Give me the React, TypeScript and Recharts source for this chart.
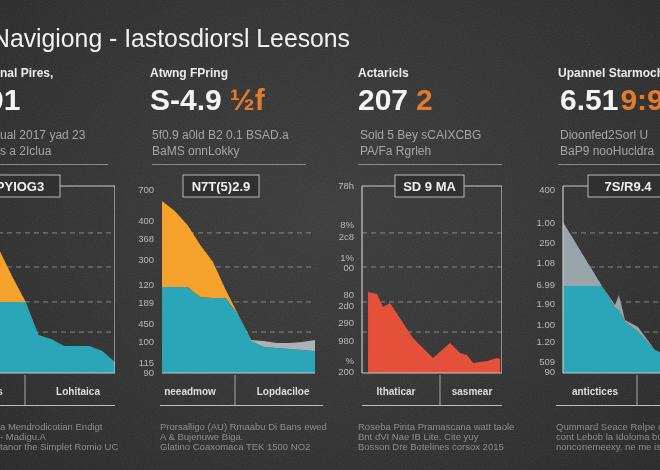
import React from 'react';
import { AreaChart, Area, XAxis, YAxis, CartesianGrid, ReferenceLine } from 'recharts';

// ---------------- data ----------------
const titleText = 'Navigiong - Iastosdiorsl Leesons';

const gridValues = [74.9, 56.7, 38, 21.9];

// Panel 1
const p1Steps = [0, 1, 2, 3, 4, 5, 6, 7, 8, 9, 10, 11, 12];
const p1Teal = [38, 38, 38, 38, 38, 38, 20.3, 18.2, 14.4, 14.4, 14.4, 11.8, 5.9];
const p1Orange = [54.5, 49.2, 39.5, 26.7, 12.8, 0, 0, 0, 0, 0, 0, 0, 0];
const p1CatTicks = [2.2, 9.1];
const p1CatLabels = ['Texts', 'Lohitaica'];

// Panel 2
const p2Steps = [0, 1, 2, 3, 4, 5, 6, 7, 8, 9, 10, 11, 12];
const p2Teal = [46, 46, 46, 40.6, 40.1, 40.1, 31, 17, 13.9, 13.4, 12.8, 12.3, 11.8];
const p2Orange = [46, 40.6, 33.1, 27.8, 19.3, 4.3, 0, 0, 0, 0, 0, 0, 0];
const p2Gray = [0, 0, 0, 0, 0, 0, 0, 0.6, 3.2, 2.6, 3.2, 4.3, 5.8];
const p2YTicks = [97.9, 81.3, 71.7, 60.4, 47.1, 37.4, 26.2, 16.6, 5.5, 0];
const p2YLabels = ['700', '400', '368', '300', '120', '189', '450', '100', '115', '90'];
const p2CatTicks = [2.2, 9.5];
const p2CatLabels = ['neeadmow', 'Lopdaciloe'];

// Panel 3
const p3Days = [4.3, 10.7, 15, 20, 36.4, 50.7, 62.9, 70, 75, 79.3, 89.3, 96.4, 98.6];
const p3Red = [43.3, 42.2, 35.3, 37.4, 18.7, 8.0, 16.0, 10.7, 9.6, 5.3, 6.4, 8.0, 7.5];
const p3YTicks = [100, 79.1, 72.7, 61.5, 56.1, 41.8, 35.8, 26.7, 17.1, 6.4, 0.5];
const p3YLabels = ['78h', '8%', '2c8', '1%', '00', '80', '2d0', '290', '980', '%', '200'];
const p3CatTicks = [24.3, 78.6];
const p3CatLabels = ['Ithaticar', 'sasmear'];

// Panel 4
const p4Days = [0, 26, 34.7, 37.3, 41.3, 50, 61.3, 64.7, 78, 100];
const p4Teal = [46.5, 46.5, 35, 33.5, 27.5, 22, 12.3, 11.2, 8, 6];
const p4Gray = [34.2, 0, 1.4, 8.2, 0.8, 2.6, 0, 0, 1, 1.5];
const p4YTicks = [97.9, 80.2, 69.5, 58.8, 47.1, 36.9, 25.7, 16.6, 5.9, 0.5];
const p4YLabels = ['400', '1.00', '250', '1.08', '6.99', '1.90', '1.00', '1.20', '509', '90'];
const p4CatTicks = [21.3, 85];
const p4CatLabels = ['antictices', 'sonthices'];

// header texts
const headLabels = ['Original Pires,', 'Atwng FPring', 'Actaricls', 'Upannel Starmoch'];
const bigWhite = ['2.01', 'S-4.9', '207', '6.51'];
const bigOrange = ['', '½f', '2', '9:9'];
const subLine1 = ['ual 2017 yad 23', '5f0.9 a0ld B2 0.1 BSAD.a', 'Sold 5 Bey sCAIXCBG', 'Dioonfed2Sorl U'];
const subLine2 = ['s a 2Iclua', 'BaMS onnLokky', 'PA/Fa Rgrleh', 'BaP9 nooHucldra'];
const boxLabels = ['PYIOG3', 'N7T(5)2.9', 'SD 9 MA', '7S/R9.4'];
const footLines = [
  ['a Mendrodicotian Endigt', '- Madigu.A', 'tanor the Simplet Romio UC'],
  ['Prorsalligo (AU) Rmaabu Di Bans ewed', 'A & Bujenuwe Biga.', 'Glatino Coaxomaca TEK 1500 NO2'],
  ['Roseba Pinta Pramascana watt taole', 'Bnt dVI Nae IB Lite. Cite yuy', 'Bosson Dre Botelines corsox 2015'],
  ['Qummard Seace Relpe chart', 'cont Lebob la Idoloma bug', 'nonconemeexy, ne me iste'],
];

// ---------------- colors ----------------
const TEAL = '#2ba6b9';
const ORANGE = '#f5a22c';
const GRAY2 = '#a9b2b4';
const GRAY4 = '#98a6a9';
const RED = '#e4503a';
const ORANGE_TXT = '#e27b2c';
const CHALK = '#c9c9c9';
const BG = '#303030';

const FONT = '"Liberation Sans", Arial, sans-serif';

type AreaDef = { key: string; color: string };

function Panel(props: {
  data: any[];
  areas: AreaDef[];
  xDomain: [number, number];
  plotLeft: number;
  plotW: number;
  yTicks?: number[];
  yLabels?: string[];
  catTicks: number[];
  catLabels: string[];
  frameLeft?: boolean;
  frameTop?: boolean;
  frameRight?: boolean;
}) {
  const { data, areas, xDomain, plotLeft, plotW, yTicks, yLabels, catTicks, catLabels } = props;
  const yW = yTicks ? 30 : 0;
  return (
    <div style={{ position: 'absolute', left: plotLeft - yW, top: 176 }}>
      <AreaChart width={plotW + yW} height={227} data={data} margin={{ top: 10, right: 0, bottom: 0, left: 0 }}>
        <CartesianGrid
          vertical={false}
          horizontalValues={gridValues}
          stroke="#a0a0a0"
          strokeOpacity={0.75}
          strokeDasharray="5 4"
        />
        <XAxis
          dataKey="x"
          type="number"
          domain={xDomain}
          allowDataOverflow
          ticks={catTicks}
          interval={0}
          tickFormatter={(v: number) => catLabels[catTicks.indexOf(v)] ?? ''}
          height={30}
          tickLine={false}
          tickMargin={9}
          axisLine={{ stroke: CHALK, strokeWidth: 1.2 }}
          tick={{ fill: '#dedede', fontSize: 10, fontWeight: 700, fontFamily: FONT }}
        />
        <YAxis
          type="number"
          domain={[0, 100]}
          allowDataOverflow
          hide={!yTicks}
          ticks={yTicks}
          interval={0}
          width={yW}
          tickFormatter={(v: number) => (yTicks && yLabels ? yLabels[yTicks.indexOf(v)] ?? '' : '')}
          tickLine={false}
          axisLine={props.frameLeft ? { stroke: CHALK, strokeWidth: 1.2 } : false}
          tick={{ fill: '#b9b9b9', fontSize: 9.5, fontFamily: FONT }}
        />
        {areas.map((a) => (
          <Area
            key={a.key}
            dataKey={a.key}
            stackId="s"
            type="linear"
            fill={a.color}
            fillOpacity={1}
            stroke="none"
            isAnimationActive={false}
          />
        ))}
        {props.frameTop && <ReferenceLine y={100} stroke={CHALK} strokeWidth={1.2} />}
        {props.frameRight && <ReferenceLine x={xDomain[1]} stroke={CHALK} strokeWidth={1.2} />}
      </AreaChart>
    </div>
  );
}

export default function App() {
  const d1 = p1Steps.map((x, i) => ({ x, teal: p1Teal[i], orange: p1Orange[i] }));
  const d2 = p2Steps.map((x, i) => ({ x, teal: p2Teal[i], orange: p2Orange[i], gray: p2Gray[i] }));
  const d3 = p3Days.map((x, i) => ({ x, red: p3Red[i] }));
  const d4 = p4Days.map((x, i) => ({ x, teal: p4Teal[i], gray: p4Gray[i] }));

  // layout
  const headX = [0, 150, 358, 558];
  const bigX = [-38, 150, 358, 560];
  const orangeDx = [0, 8, 8, 2];
  const sepX = [[0, 108], [152, 306], [358, 502], [558, 660]];
  const boxes = [[-20, 80], [183, 76], [395, 69], [588, 80]];
  const dividers = [25, 235, 440, 637];
  const underlines = [[0, 115], [160, 323], [362, 502], [556, 660]];
  const footX = [0, 160, 358, 556];

  return (
    <div
      style={{
        position: 'fixed',
        left: 0,
        top: 0,
        width: 660,
        height: 470,
        overflow: 'hidden',
        background: 'radial-gradient(ellipse at 50% 45%, #393939 0%, #303030 55%, #262626 100%)',
        fontFamily: FONT,
      }}
    >
      <svg width={660} height={470} style={{ position: 'absolute', left: 0, top: 0 }}>
        <filter id="chalk">
          <feTurbulence type="fractalNoise" baseFrequency="0.9" numOctaves="2" seed="3" />
          <feColorMatrix type="matrix" values="0 0 0 0 1  0 0 0 0 1  0 0 0 0 1  0 0 0 0.08 0" />
        </filter>
        <rect x={0} y={0} width={660} height={470} filter="url(#chalk)" />
      </svg>

      <Panel
        data={d1}
        areas={[{ key: 'teal', color: TEAL }, { key: 'orange', color: ORANGE }]}
        xDomain={[0, 12]}
        plotLeft={-38}
        plotW={153}
        catTicks={p1CatTicks}
        catLabels={p1CatLabels}
        frameTop
        frameRight
      />
      <Panel
        data={d2}
        areas={[{ key: 'teal', color: TEAL }, { key: 'orange', color: ORANGE }, { key: 'gray', color: GRAY2 }]}
        xDomain={[0, 12]}
        plotLeft={162}
        plotW={153}
        yTicks={p2YTicks}
        yLabels={p2YLabels}
        catTicks={p2CatTicks}
        catLabels={p2CatLabels}
      />
      <Panel
        data={d3}
        areas={[{ key: 'red', color: RED }]}
        xDomain={[0, 100]}
        plotLeft={362}
        plotW={140}
        yTicks={p3YTicks}
        yLabels={p3YLabels}
        catTicks={p3CatTicks}
        catLabels={p3CatLabels}
        frameLeft
        frameTop
        frameRight
      />
      <Panel
        data={d4}
        areas={[{ key: 'teal', color: TEAL }, { key: 'gray', color: GRAY4 }]}
        xDomain={[0, 100]}
        plotLeft={563}
        plotW={150}
        yTicks={p4YTicks}
        yLabels={p4YLabels}
        catTicks={p4CatTicks}
        catLabels={p4CatLabels}
        frameLeft
        frameTop
      />

      <svg width={660} height={470} style={{ position: 'absolute', left: 0, top: 0, pointerEvents: 'none' }}>
        <text
          x={-8}
          y={47}
          fill="#f2f2f2"
          fontSize={26}
          fontFamily={FONT}
          textLength={358}
          lengthAdjust="spacingAndGlyphs"
        >
          {titleText}
        </text>

        {headLabels.map((t, i) => (
          <text key={'hl' + i} x={headX[i]} y={77} fill="#ececec" fontSize={12} fontWeight={700} fontFamily={FONT}>
            {i === 0 ? t.slice(5) : t}
          </text>
        ))}
        {bigWhite.map((t, i) => (
          <text key={'bw' + i} x={bigX[i]} y={110} fill="#f4f4f4" fontSize={30} fontWeight={700} fontFamily={FONT}>
            {t}
            {bigOrange[i] && (
              <tspan dx={orangeDx[i]} fill={ORANGE_TXT}>
                {bigOrange[i]}
              </tspan>
            )}
          </text>
        ))}
        {subLine1.map((t, i) => (
          <text key={'s1' + i} x={i === 0 ? 0 : headX[i] + 2} y={139} fill="#a6a6a6" fontSize={12} fontFamily={FONT}>
            {t}
          </text>
        ))}
        {subLine2.map((t, i) => (
          <text key={'s2' + i} x={i === 0 ? 0 : headX[i] + 2} y={155} fill="#a6a6a6" fontSize={12} fontFamily={FONT}>
            {t}
          </text>
        ))}
        {sepX.map((s, i) => (
          <line key={'sep' + i} x1={s[0]} x2={s[1]} y1={164.5} y2={164.5} stroke="#8a8a8a" strokeWidth={1} />
        ))}

        {boxes.map((b, i) => (
          <g key={'bx' + i}>
            <rect x={b[0]} y={175} width={b[1]} height={22} fill={BG} stroke="#b8b8b8" strokeWidth={1} />
            <text
              x={b[0] + b[1] / 2}
              y={191}
              textAnchor="middle"
              fill="#f0f0f0"
              fontSize={13}
              fontWeight={700}
              fontFamily={FONT}
            >
              {boxLabels[i]}
            </text>
          </g>
        ))}

        {dividers.map((x, i) => (
          <line key={'dv' + i} x1={x} x2={x} y1={375} y2={405} stroke="#a8a8a8" strokeWidth={1} />
        ))}
        {underlines.map((u, i) => (
          <line key={'ul' + i} x1={u[0]} x2={u[1]} y1={405.5} y2={405.5} stroke="#bdbdbd" strokeWidth={1.2} />
        ))}

        {footLines.map((lines, i) =>
          lines.map((t, j) => (
            <text
              key={'ft' + i + '-' + j}
              x={footX[i]}
              y={430 + j * 10}
              fill="#8e8e8e"
              fontSize={9.5}
              fontFamily={FONT}
            >
              {t}
            </text>
          ))
        )}
      </svg>
    </div>
  );
}
